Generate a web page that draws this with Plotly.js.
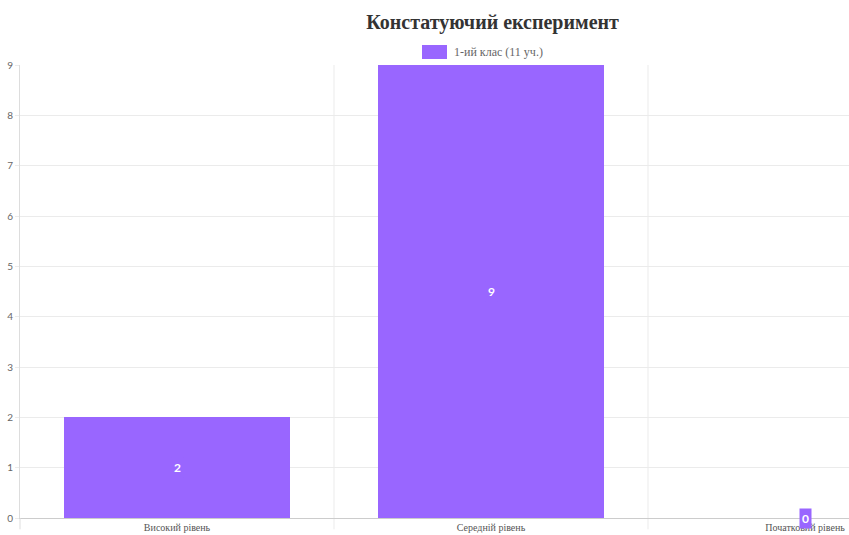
<!DOCTYPE html>
<html>
<head>
<meta charset="utf-8">
<script src="https://cdn.plot.ly/plotly-3.0.1.min.js"></script>
<style>html,body{margin:0;padding:0;background:#fff;}#chart{width:849px;height:535px;}</style>
</head>
<body>
<div id="chart"></div>
<script>
const categories = ["Високий рівень", "Середній рівень", "Початковий рівень"];
const values = [2, 9, 0];
const seriesName = "1-ий клас (11 уч.)";
const yTicks = [0, 1, 2, 3, 4, 5, 6, 7, 8, 9];
const chartTitle = "Констатуючий експеримент";

const barColor = "#9966ff";

const trace = {
  type: "bar",
  x: categories,
  y: values,
  name: seriesName,
  width: 0.72,
  marker: { color: barColor, line: { width: 0 } },
  hoverinfo: "none",
  showlegend: false
};

const W = 849, H = 535, L = 20, T = 65, B = 17;
const pw = W - L, ph = H - T - B;
const px = x => (x - L) / pw;            // pixel -> paper x
const py = y => (H - B - y) / ph;        // pixel -> paper y

const annotations = values.map((v, i) => ({
  x: categories[i],
  y: v / 2,
  xref: "x",
  yref: "y",
  text: "<b>" + v + "</b>",
  showarrow: false,
  font: { family: "Lato, 'DejaVu Sans', sans-serif", size: 12, color: "#ffffff" },
  bgcolor: barColor,
  borderpad: 2,
  yanchor: "middle"
}));

// legend entry (wide swatch like the reference)
annotations.push({
  xref: "paper", yref: "paper",
  x: px(452), y: py(52),
  xanchor: "left", yanchor: "middle",
  text: seriesName,
  showarrow: false,
  font: { family: "'Liberation Serif', 'DejaVu Serif', serif", size: 12, color: "#666666" }
});

const shapes = [0.5, 1.5].map(b => ({
  type: "line", xref: "x", yref: "paper", x0: b, x1: b, y0: -0.025, y1: 1,
  line: { color: "#ebebeb", width: 1 }, layer: "below"
}));
shapes.push({
  type: "line", xref: "paper", yref: "paper", x0: 0, x1: 0, y0: -0.025, y1: 0,
  line: { color: "#dddddd", width: 1 }
});
shapes.push({
  type: "rect", xref: "paper", yref: "paper",
  x0: px(422), x1: px(447), y0: py(59), y1: py(45),
  fillcolor: barColor, line: { width: 0 }
});

const layout = {
  width: W,
  height: H,
  margin: { l: L, r: 0, t: T, b: B, pad: 0 },
  paper_bgcolor: "#ffffff",
  plot_bgcolor: "#ffffff",
  title: {
    text: "<b>" + chartTitle + "</b>",
    font: { family: "'Liberation Serif', 'DejaVu Serif', serif", size: 20, color: "#333333" },
    x: 484 / W,
    xanchor: "center",
    xref: "paper",
    y: 1 - 22 / H,
    yanchor: "middle",
    yref: "container"
  },
  showlegend: false,
  xaxis: {
    type: "category",
    range: [-0.5, 2.14],
    showgrid: false,
    zeroline: false,
    showline: true,
    linecolor: "#cccccc",
    linewidth: 1,
    ticks: "",
    tickfont: { family: "'Liberation Serif', 'DejaVu Serif', serif", size: 10, color: "#555555" },
    automargin: false,
    fixedrange: true
  },
  yaxis: {
    range: [0, 9],
    tickvals: yTicks,
    ticktext: yTicks.map(String),
    showgrid: true,
    gridcolor: "#ebebeb",
    gridwidth: 1,
    zeroline: false,
    showline: true,
    linecolor: "#dddddd",
    linewidth: 1,
    ticks: "outside",
    ticklen: 4,
    tickcolor: "#ebebeb",
    tickfont: { family: "Lato, 'DejaVu Sans', sans-serif", size: 10, color: "#666666" },
    automargin: false,
    fixedrange: true
  },
  shapes: shapes,
  annotations: annotations,
  bargap: 0
};

Plotly.newPlot("chart", [trace], layout, { displayModeBar: false, staticPlot: true });
</script>
</body>
</html>
